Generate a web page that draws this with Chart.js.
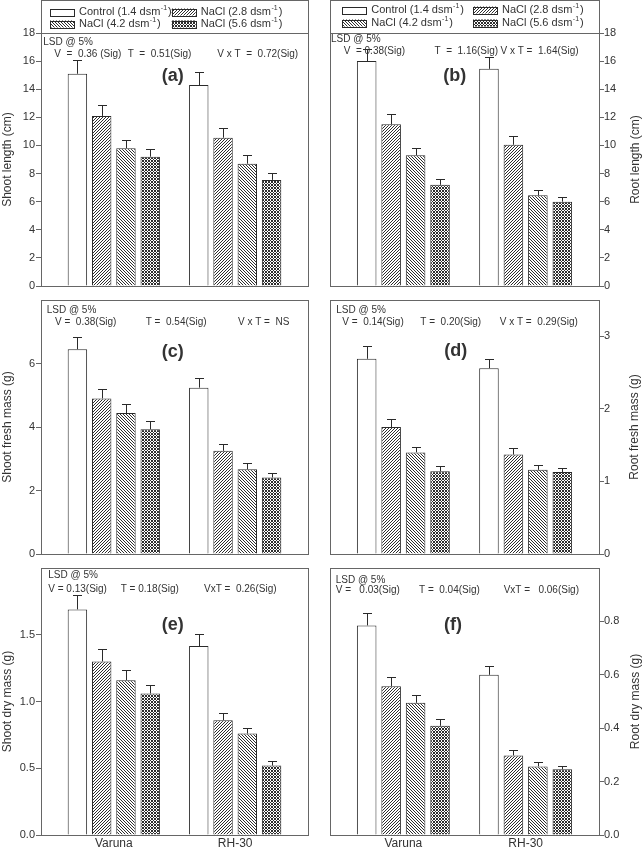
<!DOCTYPE html>
<html>
<head>
<meta charset="utf-8">
<title>Salinity and Brassica growth</title>
<script src="https://cdn.jsdelivr.net/npm/chart.js@4.4.1/dist/chart.umd.min.js"></script>
<style>
  body { margin: 0; background: #fff; }
  canvas { position: absolute; }
</style>
</head>
<body>
<canvas id="pa" width="321" height="312" style="left:0;top:0"></canvas>
<canvas id="pb" width="322" height="312" style="left:321px;top:0"></canvas>
<canvas id="pc" width="321" height="292" style="left:0;top:288px"></canvas>
<canvas id="pd" width="322" height="292" style="left:321px;top:288px"></canvas>
<canvas id="pe" width="321" height="293" style="left:0;top:556px"></canvas>
<canvas id="pf" width="322" height="293" style="left:321px;top:556px"></canvas>
<script>
const varieties = ['Varuna', 'RH-30'];
const treatments = ['Control (1.4 dsm⁻¹)', 'NaCl (2.8 dsm⁻¹)', 'NaCl (4.2 dsm⁻¹)', 'NaCl (5.6 dsm⁻¹)'];

// one row per treatment: [Varuna, RH-30]
const shootLength = [[15.1, 14.3], [12.1, 10.55], [9.8, 8.7], [9.2, 7.55]];
const shootLengthErr = [[0.95, 0.9], [0.75, 0.7], [0.6, 0.6], [0.55, 0.47]];
const rootLength = [[16.0, 15.45], [11.5, 10.05], [9.3, 6.45], [7.2, 6.0]];
const rootLengthErr = [[0.85, 0.85], [0.75, 0.6], [0.55, 0.4], [0.4, 0.33]];
const shootFresh = [[6.45, 5.24], [4.9, 3.25], [4.44, 2.67], [3.93, 2.41]];
const shootFreshErr = [[0.39, 0.29], [0.31, 0.21], [0.28, 0.19], [0.27, 0.14]];
const rootFresh = [[2.69, 2.56], [1.75, 1.37], [1.4, 1.16], [1.14, 1.13]];
const rootFreshErr = [[0.17, 0.13], [0.11, 0.09], [0.08, 0.07], [0.07, 0.06]];
const shootDry = [[1.69, 1.415], [1.3, 0.86], [1.16, 0.76], [1.06, 0.52]];
const shootDryErr = [[0.11, 0.09], [0.09, 0.055], [0.075, 0.045], [0.067, 0.037]];
const rootDry = [[0.785, 0.6], [0.557, 0.298], [0.495, 0.257], [0.409, 0.246]];
const rootDryErr = [[0.047, 0.032], [0.035, 0.019], [0.028, 0.016], [0.024, 0.014]];

const FONT = "'Liberation Sans', Arial, sans-serif";
const INK = '#2a2a2a';
Chart.defaults.font.family = FONT;
Chart.defaults.color = '#333';

// hatch tiles: plain, "/", "\", cross
function makeFill(ctx, kind) {
  if (kind === 'none') return '#fff';
  const tile = document.createElement('canvas');
  tile.width = 6; tile.height = 6;
  const g = tile.getContext('2d');
  const img = g.createImageData(6, 6);
  for (let y = 0; y < 6; y++) {
    for (let x = 0; x < 6; x++) {
      const a = (x + y) % 3 === 0;
      const b = (x - y + 6) % 3 === 0;
      const on = kind === 'fwd' ? a : kind === 'back' ? b : (a || b);
      const v = on ? 45 : 255;
      const i = (y * 6 + x) * 4;
      img.data[i] = img.data[i + 1] = img.data[i + 2] = v;
      img.data[i + 3] = 255;
    }
  }
  g.putImageData(img, 0, 0);
  return ctx.createPattern(tile, 'repeat');
}
const fillKinds = ['none', 'fwd', 'back', 'cross'];

function drawLabel(ctx, label, x, y) {
  const [main, rest] = label.split('⁻¹');
  ctx.font = '11px ' + FONT;
  ctx.fillText(main, x, y);
  const w = ctx.measureText(main).width;
  ctx.font = '7px ' + FONT;
  ctx.fillText('-1', x + w + 0.5, y - 4);
  const w2 = ctx.measureText('-1').width;
  ctx.font = '11px ' + FONT;
  ctx.fillText(rest, x + w + w2 + 1.5, y);
}

function decor(cfg) {
  return {
    id: 'decor',
    afterDatasetsDraw(chart) {
      const ctx = chart.ctx, ys = chart.scales.y;
      ctx.save();
      ctx.strokeStyle = INK;
      ctx.lineWidth = 1;
      chart.data.datasets.forEach((ds, di) => {
        chart.getDatasetMeta(di).data.forEach((bar, i) => {
          const x = Math.round(bar.x) + 0.5;
          const top = Math.round(ys.getPixelForValue(ds.data[i].y + ds.errors[i])) + 0.5;
          ctx.beginPath();
          ctx.moveTo(x, bar.y);
          ctx.lineTo(x, top);
          ctx.moveTo(x - 4.5, top);
          ctx.lineTo(x + 4.5, top);
          ctx.stroke();
        });
      });
      ctx.restore();
    },
    afterDraw(chart) {
      const ctx = chart.ctx, a = chart.chartArea;
      const L = Math.round(a.left) + 0.5, R = Math.round(a.right) + 0.5;
      const T = Math.round(a.top) + 0.5, B = Math.round(a.bottom) + 0.5;
      ctx.save();
      ctx.strokeStyle = '#666';
      ctx.lineWidth = 1;
      ctx.strokeRect(L, cfg.legend ? 0.5 : T, R - L, B - (cfg.legend ? 0.5 : T));
      ctx.beginPath(); ctx.moveTo(L, T); ctx.lineTo(R, T); ctx.stroke();

      ctx.fillStyle = '#333';
      ctx.textBaseline = 'middle';
      ctx.textAlign = 'left';

      if (cfg.legend) {
        const lg = cfg.legend;
        treatments.forEach((t, i) => {
          const bx = a.left + lg.cols[i % 2];
          const by = lg.rows[Math.floor(i / 2)];
          ctx.fillStyle = chart.data.datasets[i].backgroundColor;
          ctx.fillRect(bx, by - 3.5, 24, 7);
          ctx.strokeStyle = INK;
          ctx.strokeRect(Math.round(bx) + 0.5, Math.round(by - 3.5) + 0.5, 24, 7);
          ctx.fillStyle = '#333';
          drawLabel(ctx, t, bx + 29, by);
        });
      }

      // LSD note
      ctx.font = '10px ' + FONT;
      ctx.fillText('LSD @ 5%', a.left + cfg.lsd.head[0], a.top + cfg.lsd.head[1]);
      cfg.lsd.segs.forEach(([dx, txt]) => ctx.fillText(txt, a.left + dx, a.top + cfg.lsd.row));

      // panel letter
      ctx.font = 'bold 18px ' + FONT;
      ctx.textAlign = 'center';
      ctx.fillText(cfg.letter, a.left + cfg.letterPos[0], a.top + cfg.letterPos[1]);

      // axis title, read bottom to top on both sides
      ctx.font = '12px ' + FONT;
      ctx.translate(cfg.titleX, (a.top + a.bottom) / 2);
      ctx.rotate(-Math.PI / 2);
      ctx.fillText(cfg.title, 0, 0);
      ctx.restore();
    }
  };
}

function makePanel(cfg) {
  const canvas = document.getElementById(cfg.id);
  const ctx = canvas.getContext('2d');
  const left = cfg.side === 'left';
  const datasets = treatments.map((t, ti) => ({
    label: t,
    data: varieties.map((v, vi) => ({ x: vi, y: cfg.values[ti][vi] })),
    errors: cfg.errors[ti],
    backgroundColor: makeFill(ctx, fillKinds[ti]),
    borderColor: INK,
    borderWidth: 1,
    categoryPercentage: 0.8,
    barPercentage: 0.8
  }));
  const pad = {
    left: left ? 0 : 9,
    right: left ? 13 : 0,
    top: cfg.row === 'top' ? 33 : 12,
    bottom: cfg.row === 'bottom' ? 0 : 12
  };
  return new Chart(ctx, {
    type: 'bar',
    data: { datasets },
    plugins: [decor(cfg)],
    options: {
      responsive: false,
      animation: false,
      layout: { padding: pad },
      plugins: { legend: { display: false }, tooltip: { enabled: false } },
      scales: {
        x: {
          type: 'linear',
          min: -0.6,
          max: 1.6,
          offset: false,
          display: cfg.row === 'bottom',
          grid: { display: false, drawTicks: false },
          border: { display: false },
          afterBuildTicks: s => { s.ticks = varieties.map((v, i) => ({ value: i })); },
          afterFit: s => { s.height = 14; },
          ticks: {
            padding: 1,
            color: '#333',
            font: { size: 12 },
            callback: v => varieties[v]
          }
        },
        y: {
          position: cfg.side,
          min: 0,
          max: cfg.max,
          afterBuildTicks: s => {
            s.ticks = s.ticks.filter(t => {
              const k = t.value / cfg.step;
              const onStep = Math.abs(k - Math.round(k)) < 1e-6;
              return onStep && (cfg.row === 'top' || t.value < cfg.max - 1e-6);
            });
          },
          afterFit: s => { s.width = left ? 41 : 44; },
          grid: { drawOnChartArea: false, drawTicks: true, tickLength: 5, color: '#666' },
          border: { display: true, color: '#666' },
          ticks: {
            stepSize: cfg.step,
            padding: left ? 1 : 0,
            color: '#333',
            font: { size: 11 },
            callback: v => cfg.decimals ? v.toFixed(cfg.decimals) : String(Math.round(v))
          }
        }
      }
    }
  });
}

makePanel({
  id: 'pa', side: 'left', row: 'top', values: shootLength, errors: shootLengthErr,
  max: 18, step: 2, letter: '(a)', letterPos: [131.7, 43],
  title: 'Shoot length (cm)', titleX: 8,
  legend: { cols: [9, 130.7], rows: [12, 24] },
  lsd: { head: [2.3, 9.7], row: 21.3,
    segs: [[13.3, 'V  =  0.36 (Sig)'], [86.7, 'T  =  0.51(Sig)'], [176.3, 'V x T  =  0.72(Sig)']] }
});
makePanel({
  id: 'pb', side: 'right', row: 'top', values: rootLength, errors: rootLengthErr,
  max: 18, step: 2, letter: '(b)', letterPos: [124.7, 43],
  title: 'Root length (cm)', titleX: 315,
  legend: { cols: [12.3, 143], rows: [10, 23] },
  lsd: { head: [1, 6.3], row: 18.7,
    segs: [[13.7, 'V  = 0.38(Sig)'], [104.5, 'T  =  1.16(Sig)'], [170.5, 'V x T =  1.64(Sig)']] }
});
makePanel({
  id: 'pc', side: 'left', row: 'mid', values: shootFresh, errors: shootFreshErr,
  max: 8, step: 2, letter: '(c)', letterPos: [131.7, 51.7],
  title: 'Shoot fresh mass (g)', titleX: 8,
  lsd: { head: [5.7, 10.7], row: 22.3,
    segs: [[14, 'V =  0.38(Sig)'], [104.7, 'T =  0.54(Sig)'], [197, 'V x T =  NS']] }
});
makePanel({
  id: 'pd', side: 'right', row: 'mid', values: rootFresh, errors: rootFreshErr,
  max: 3.5, step: 1, letter: '(d)', letterPos: [125.7, 51],
  title: 'Root fresh mass (g)', titleX: 314,
  lsd: { head: [6.3, 10], row: 22.3,
    segs: [[12.3, 'V =  0.14(Sig)'], [90.3, 'T =  0.20(Sig)'], [169.7, 'V x T =  0.29(Sig)']] }
});
makePanel({
  id: 'pe', side: 'left', row: 'bottom', values: shootDry, errors: shootDryErr,
  max: 2, step: 0.5, decimals: 1, letter: '(e)', letterPos: [131.7, 57],
  title: 'Shoot dry mass (g)', titleX: 8,
  lsd: { head: [7.3, 7.7], row: 21,
    segs: [[7.3, 'V = 0.13(Sig)'], [79.7, 'T = 0.18(Sig)'], [163, 'VxT =  0.26(Sig)']] }
});
makePanel({
  id: 'pf', side: 'right', row: 'bottom', values: rootDry, errors: rootDryErr,
  max: 1, step: 0.2, decimals: 1, letter: '(f)', letterPos: [123, 57],
  title: 'Root dry mass (g)', titleX: 315,
  lsd: { head: [5.7, 12], row: 22.7,
    segs: [[5.7, 'V =   0.03(Sig)'], [89, 'T =  0.04(Sig)'], [173.7, 'VxT =   0.06(Sig)']] }
});
</script>
</body>
</html>
